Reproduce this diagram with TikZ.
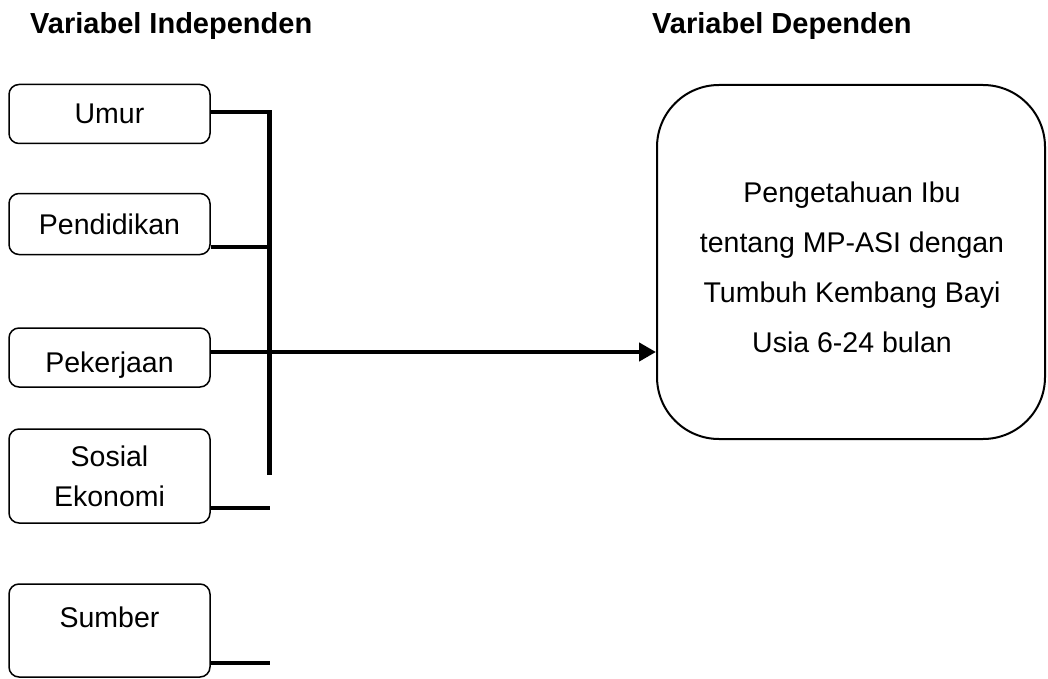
\documentclass[tikz,border=0pt]{standalone}
\usepackage{fontspec}
\setmainfont{Liberation Sans}
\usetikzlibrary{arrows.meta}
\tikzset{
  leftbox/.style={draw, line width=1.5pt, rounded corners=10pt, minimum width=201pt, inner sep=0pt, align=center, font=\fontsize{28.5}{40}\selectfont},
  bigbox/.style={draw, line width=2pt, rounded corners=62pt, minimum width=388pt, minimum height=354pt, inner sep=0pt},
  bigtext/.style={inner sep=0pt, align=center, font=\fontsize{28.5}{50}\selectfont},
  title/.style={anchor=base west, inner sep=0pt, font=\fontsize{29}{34}\selectfont\bfseries},
  conn/.style={line width=4.5pt, line join=miter},
}
\begin{document}
\begin{tikzpicture}[x=1pt,y=-1pt]
\useasboundingbox (0,0) rectangle (1048,679);
\node[title] (tind) at (30,34) {Variabel Independen};
\node[title] (tdep) at (652,34) {Variabel Dependen};
\node[leftbox, minimum height=59pt] (umur) at (109.5,114) {Umur};
\node[leftbox, minimum height=61pt] (pend) at (109.5,224) {Pendidikan};
\node[leftbox, text height=44pt, text depth=15pt] (pek) at (109.5,357.5) {Pekerjaan};
\node[leftbox, minimum height=94pt] (sos) at (109.5,476) {Sosial\\Ekonomi};
\node[leftbox, text height=43pt, text depth=50pt] (sum) at (109.5,630.5) {Sumber};
\node[bigbox] (dep) at (851,262) {};
\node[bigtext] (deptext) at (852,267) {Pengetahuan Ibu\\tentang MP-ASI dengan\\Tumbuh Kembang Bayi\\Usia 6-24 bulan};
\coordinate (vtop) at (269.5,112);
\coordinate (vbot) at (269.5,475);
\draw[conn] (umur.east |- vtop) -- (vtop) -- (vbot);
\draw[conn] (pend.east |- 0,247) -- (vtop |- 0,247);
\draw[conn, -{Triangle[length=17pt,width=18pt]}] (pek.east |- 0,352) -- (dep.west |- 0,352);
\draw[conn] (sos.east |- 0,508) -- (vbot |- 0,508);
\draw[conn] (sum.east |- 0,663) -- (vbot |- 0,663);
\end{tikzpicture}
\end{document}
